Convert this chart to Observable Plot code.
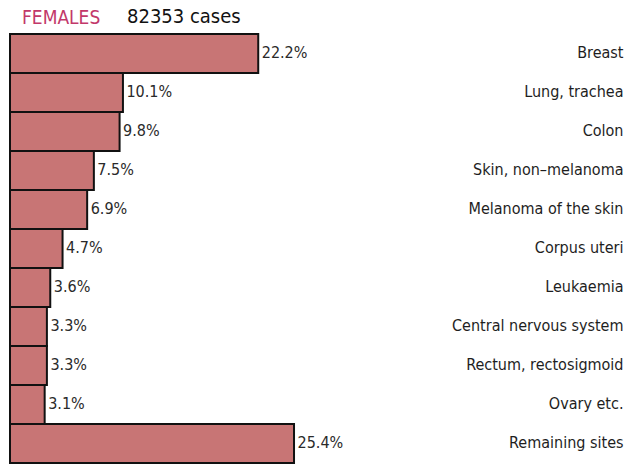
<!DOCTYPE html>
<html><head><meta charset="utf-8">
<script src="https://cdn.jsdelivr.net/npm/d3@7"></script>
<script src="https://cdn.jsdelivr.net/npm/@observablehq/plot@0.6"></script>
<style>
body{margin:0;background:#fff;font-family:"DejaVu Sans",sans-serif;font-stretch:condensed;}
#title{height:31px;position:relative;}
#title span{position:absolute;bottom:3px;}
svg text{font-stretch:condensed;}
</style></head>
<body>
<div id="title"><span style="left:22px;color:#c2386a;font-size:19px;">FEMALES</span><span style="left:127px;color:#111;font-size:20px;">82353 cases</span></div>
<div id="chart"></div>
<script>
const sites = ["Breast","Lung, trachea","Colon","Skin, non\u2013melanoma","Melanoma of the skin","Corpus uteri","Leukaemia","Central nervous system","Rectum, rectosigmoid","Ovary etc.","Remaining sites"];
const percents = [22.2,10.1,9.8,7.5,6.9,4.7,3.6,3.3,3.3,3.1,25.4];
const data = sites.map((s,i)=>({site:s, pct:percents[i]}));
const chart = Plot.plot({
  width:625, height:435,
  marginLeft:10, marginRight:0, marginTop:0, marginBottom:0,
  x:{domain:[0,55], axis:null},
  y:{domain:sites, axis:null, padding:0},
  style:{fontFamily:'"DejaVu Sans",sans-serif'},
  marks:[
    Plot.barX(data,{x:"pct", y:"site", fill:"#c87575", stroke:"#111", strokeWidth:2}),
    Plot.text(data,{x:"pct", y:"site", text:d=>d.pct.toFixed(1)+"%", textAnchor:"start", dx:3, dy:-1, fontSize:16, fill:"#2a2a2a"}),
    Plot.text(data,{y:"site", text:"site", frameAnchor:"right", dx:-2, dy:-1, fontSize:16, fill:"#1e1e1e"})
  ]
});
document.getElementById("chart").appendChild(chart);
</script>
</body></html>
